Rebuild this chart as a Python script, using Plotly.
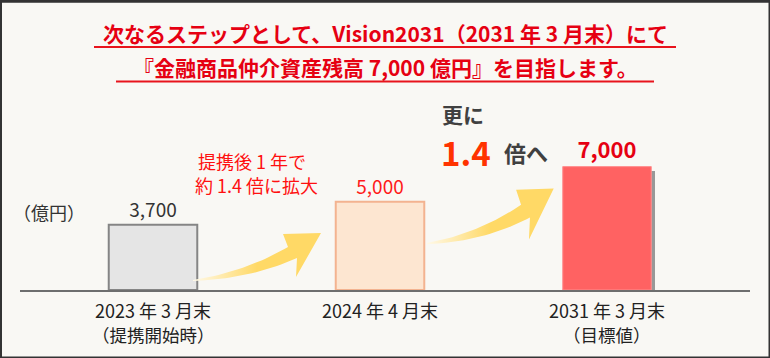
import plotly.graph_objects as go

# ---------------- data ----------------
categories = ["2023年3月末", "2024年4月末", "2031年3月末"]
tick_labels = ["2023 年 3 月末", "2024 年 4 月末", "2031 年 3 月末"]
sub_labels = ["（提携開始時）", "", "（目標値）"]
values = [3700, 5000, 7000]
unit_label = "（億円）"
title_line1 = "次なるステップとして、Vision2031（2031 年 3 月末）にて"
title_line2 = "『金融商品仲介資産残高 7,000 億円』を目指します。"
note_lines = ["提携後 1 年で", "約 1.4 倍に拡大"]
growth_head = "更に"
growth_factor = "1.4"
growth_tail = "倍へ"

# ---------------- styles ----------------
W, H = 770, 358
FONT = "Noto Sans CJK JP, Noto Sans, sans-serif"
BG = "#F9F8F4"
bar_fill = ["#E5E5E5", "#FDE6D1", "#FF6262"]
bar_edge = ["#858585", "#F3B390", "#FF8F8F"]
bar_edge_w = [2, 2, 1]
label_colors = ["#333333", "#FF1A1A", "#E60012"]
label_sizes = [19, 19, 22]
label_bold = [False, False, True]


def px(x):
    return x / W


def py(y):
    return 1 - y / H


# main plotting area (pixel geometry)
X_LEFT, X_RIGHT = 20, 750
Y_BASE, Y_TOP = 290, 20
CAT_STEP = 227.0          # px per category
FIRST_CENTER = 153.0
x_lo = -(FIRST_CENTER - X_LEFT) / CAT_STEP
x_hi = x_lo + (X_RIGHT - X_LEFT) / CAT_STEP
Y_MAX = 15318
BAR_W = 0.39
units_per_px_x = (x_hi - x_lo) / (X_RIGHT - X_LEFT)
units_per_px_y = Y_MAX / (Y_BASE - Y_TOP)

fig = go.Figure()

# shadow of the target bar
fig.add_trace(go.Bar(
    x=[categories[-1]], y=[values[-1] - 4 * units_per_px_y],
    width=BAR_W, offset=-BAR_W / 2 + 4 * units_per_px_x,
    marker=dict(color="rgba(120,120,120,0.75)", line=dict(width=0)),
    hoverinfo="skip", showlegend=False,
))

texts = [("<b>%s</b>" if b else "%s") % f"{v:,}" for v, b in zip(values, label_bold)]
fig.add_trace(go.Bar(
    x=categories, y=values, width=BAR_W,
    marker=dict(color=bar_fill, line=dict(color=bar_edge, width=bar_edge_w)),
    text=texts, textposition="outside", cliponaxis=False,
    textfont=dict(color=label_colors, size=label_sizes, family=FONT),
    hoverinfo="skip", showlegend=False,
))


# ---------------- decorative curved arrows ----------------
def bez(p0, c, p1, n=24):
    pts = []
    for i in range(n + 1):
        t = i / n
        a, b, d = (1 - t) ** 2, 2 * t * (1 - t), t ** 2
        pts.append((a * p0[0] + b * c[0] + d * p1[0], a * p0[1] + b * c[1] + d * p1[1]))
    return pts


arrow_base = (
    bez((0, 0), (52, -8), (95, -33))
    + [(90, -46), (128, -47), (103, -3), (104, -22)]
    + bez((104, -22), (57, -1), (0, 1))
)


def arrow(tail, sx, sy):
    xs = [tail[0] + p[0] * sx for p in arrow_base]
    ys = [tail[1] + p[1] * sy for p in arrow_base]
    return xs, ys


for tail, sx, sy in [((193, 280), 1.0, 1.0), ((427, 243), 0.99, 1.16)]:
    ax, ay = arrow(tail, sx, sy)
    fig.add_trace(go.Scatter(
        x=ax, y=ay, mode="lines", fill="toself", line=dict(width=0),
        fillgradient=dict(type="horizontal",
                          colorscale=[[0, "rgba(255,249,232,1)"], [0.5, "#FFD966"], [1, "#FFD966"]]),
        xaxis="x2", yaxis="y2", hoverinfo="skip", showlegend=False,
    ))

annotations = []


def ann(text, x, y, size, color, xanchor="center", bold=False, xref="paper"):
    annotations.append(dict(
        text=f"<b>{text}</b>" if bold else text,
        x=px(x) if xref == "paper" else x, y=py(y), xref=xref, yref="paper",
        xanchor=xanchor, yanchor="middle", showarrow=False,
        font=dict(family=FONT, size=size, color=color),
    ))


ann(title_line1, 385, 33, 21, "#E60012", bold=True)
ann(title_line2, 385, 67, 21, "#E60012", bold=True)
ann(unit_label, 49, 212, 18, "#333333")
ann(note_lines[0], 252, 161, 18, "#FF1010")
ann(note_lines[1], 256, 185, 18, "#FF1010")
ann(growth_head, 440, 114, 21, "#404040", xanchor="left", bold=True)
ann(growth_factor, 439, 152, 33, "#FF3300", xanchor="left", bold=True)
ann(growth_tail, 502, 152, 22, "#404040", xanchor="left", bold=True)
for cat, sub in zip(categories, sub_labels):
    if sub:
        ann(sub, cat, 334.5, 17.5, "#222222", xref="x")

shapes = [
    dict(type="line", xref="paper", yref="paper", x0=px(94), x1=px(676), y0=py(47), y1=py(47),
         line=dict(color="#E8141C", width=2)),
    dict(type="line", xref="paper", yref="paper", x0=px(116), x1=px(654), y0=py(81.5), y1=py(81.5),
         line=dict(color="#E8141C", width=2)),
    dict(type="rect", xref="paper", yref="paper", x0=px(1), x1=px(769.5), y0=py(1.5), y1=py(357.5),
         line=dict(color="#333333", width=2)),
    dict(type="line", xref="paper", yref="paper", x0=0, x1=1, y0=py(1), y1=py(1),
         line=dict(color="#333333", width=3)),
]

fig.update_layout(
    width=W, height=H, autosize=False,
    margin=dict(l=0, r=0, t=0, b=0, pad=0),
    paper_bgcolor=BG, plot_bgcolor="rgba(0,0,0,0)",
    barmode="overlay", bargap=0,
    font=dict(family=FONT, color="#222222"),
    xaxis=dict(domain=[px(X_LEFT), px(X_RIGHT)], range=[x_lo, x_hi], type="category",
               categoryorder="array", categoryarray=categories,
               tickvals=categories, ticktext=tick_labels,
               showline=True, linecolor="#6E6E6E", linewidth=1.5,
               showgrid=False, zeroline=False, ticks="", ticklabelstandoff=5,
               tickfont=dict(family=FONT, size=18, color="#222222")),
    yaxis=dict(domain=[py(Y_BASE), py(Y_TOP)], range=[0, Y_MAX], visible=False, showgrid=False),
    xaxis2=dict(domain=[0, 1], range=[0, W], visible=False, anchor="y2"),
    yaxis2=dict(domain=[0, 1], range=[H, 0], visible=False, anchor="x2"),
    annotations=annotations, shapes=shapes,
    showlegend=False,
)

fig.write_html(
    "out.html",
    config={"displayModeBar": False, "staticPlot": True},
    post_script="document.body.style.margin='0';document.body.style.overflow='hidden';",
)
